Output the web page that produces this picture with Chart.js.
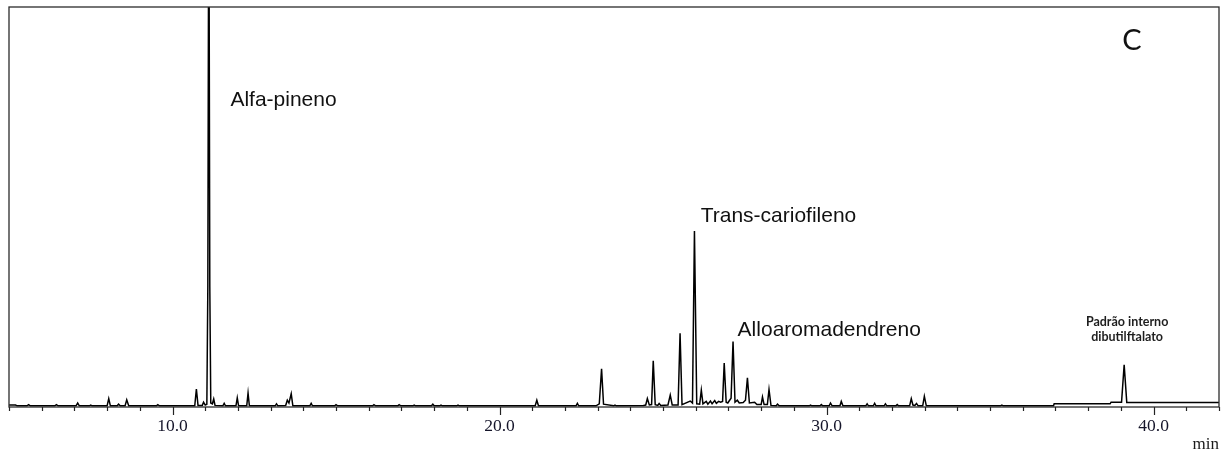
<!DOCTYPE html>
<html>
<head>
<meta charset="utf-8">
<title>Cromatograma C</title>
<script src="https://cdn.jsdelivr.net/npm/chart.js@4.4.1/dist/chart.umd.min.js"></script>
<style>
  html, body { margin: 0; padding: 0; background: #fff; }
  #wrap { position: relative; width: 1231px; height: 455px; }
</style>
</head>
<body>
<div id="wrap"><canvas id="chart-gc"></canvas></div>
<script>
// retention time (min) and detector signal (% of scale) of the trace, line by line
var retTime = [
  5.00, 5.20, 5.25, 5.55, 5.60, 5.65, 6.40, 6.45, 6.50, 7.05, 7.10, 7.15, 7.46, 7.50, 7.54,
  8.00, 8.05, 8.10, 8.31, 8.35, 8.40, 8.55, 8.60, 8.66, 9.51, 9.55, 9.60,
  10.68, 10.73, 10.78, 10.91, 10.95, 11.00, 11.05, 11.08, 11.11, 11.14, 11.17, 11.22, 11.26, 11.30,
  11.54, 11.58, 11.62, 11.94, 11.98, 12.02, 12.27, 12.31, 12.35, 13.14, 13.18, 13.22,
  13.46, 13.51, 13.56, 13.63, 13.68, 14.20, 14.24, 14.28, 14.96, 15.00, 15.05,
  16.12, 16.16, 16.21, 16.89, 16.93, 16.98, 17.35, 17.39, 17.43, 17.92, 17.96, 18.00,
  18.17, 18.21, 18.25, 18.69, 18.73, 18.77, 21.09, 21.14, 21.19, 22.34, 22.38, 22.42,
  22.95, 23.05, 23.12, 23.18, 23.49, 23.53, 23.57, 24.40, 24.47, 24.52, 24.58, 24.65, 24.70, 24.76,
  24.84, 24.88, 24.93, 25.15, 25.22, 25.28, 25.46, 25.52, 25.58, 25.83, 25.90, 25.96, 26.03,
  26.12, 26.17, 26.22, 26.32, 26.37, 26.45, 26.50, 26.58, 26.63, 26.70, 26.76, 26.82, 26.87, 26.93,
  26.98, 27.02, 27.08, 27.14, 27.20, 27.27, 27.33, 27.45, 27.52, 27.58, 27.64, 27.80, 27.87,
  28.00, 28.04, 28.09, 28.19, 28.24, 28.30, 28.46, 28.50, 28.55, 29.47, 29.51, 29.55,
  29.80, 29.84, 29.88, 30.08, 30.12, 30.17, 30.41, 30.45, 30.50, 31.20, 31.24, 31.28,
  31.43, 31.47, 31.51, 31.76, 31.80, 31.84, 32.12, 32.16, 32.20,
  32.54, 32.59, 32.64, 32.70, 32.75, 32.80, 32.94, 32.99, 33.05, 35.32, 35.36, 35.40,
  36.94, 36.96, 38.67, 38.70, 39.02, 39.10, 39.18, 42.10
];
var signal = [
  0.3, 0.3, 0.1, 0.1, 0.4, 0.1, 0.1, 0.4, 0.1, 0.1, 0.8, 0.1, 0.1, 0.3, 0.1,
  0.1, 1.9, 0.1, 0.1, 0.5, 0.1, 0.1, 1.6, 0.1, 0.1, 0.4, 0.1,
  0.1, 4.3, 0.2, 0.2, 1.0, 0.3, 0.5, 30, 140, 30, 0.8, 0.6, 1.8, 0.2,
  0.1, 0.7, 0.1, 0.1, 2.1, 0.1, 0.1, 3.3, 0.1, 0.1, 0.6, 0.1,
  0.2, 1.5, 0.8, 3.1, 0.1, 0.1, 0.7, 0.1, 0.1, 0.4, 0.1,
  0.1, 0.4, 0.1, 0.1, 0.4, 0.1, 0.1, 0.3, 0.1, 0.1, 0.5, 0.1,
  0.1, 0.3, 0.1, 0.1, 0.3, 0.1, 0.1, 1.5, 0.1, 0.1, 0.7, 0.1,
  0.1, 0.6, 9.4, 0.5, 0.1, 0.3, 0.1, 0.2, 0.3, 1.9, 0.3, 0.4, 11.4, 0.4,
  0.2, 0.7, 0.2, 0.3, 2.8, 0.3, 0.3, 18.3, 0.4, 1.3, 0.8, 43.9, 0.6,
  0.5, 4.0, 0.6, 1.2, 0.5, 1.3, 0.6, 1.4, 0.7, 1.2, 1.0, 1.2, 10.8, 1.0,
  0.8, 1.3, 2.0, 16.2, 1.0, 1.5, 0.8, 0.9, 1.5, 7.1, 0.8, 1.0, 0.4,
  0.4, 2.3, 0.4, 0.4, 4.2, 0.2, 0.1, 0.5, 0.1, 0.1, 0.3, 0.1,
  0.1, 0.4, 0.1, 0.1, 0.8, 0.1, 0.1, 1.2, 0.1, 0.1, 0.6, 0.1,
  0.1, 0.7, 0.1, 0.1, 0.6, 0.1, 0.1, 0.4, 0.1,
  0.1, 1.9, 0.3, 0.2, 0.7, 0.1, 0.1, 2.5, 0.1, 0.1, 0.3, 0.1,
  0.1, 0.6, 0.6, 1.0, 1.0, 10.4, 0.9, 0.9
];

var majorTicks = [10, 20, 30, 40];

// peak names, anchored at (time, level) by their left edge
var peakNames = ['Alfa-pineno', 'Trans-cariofileno', 'Alloaromadendreno'];
var peakNameTime = [11.77, 26.15, 27.28];
var peakNameLevel = [76.7, 47.6, 19.0];

// internal standard note, centred
var stdLines = ['Padrão interno', 'dibutilftalato'];
var stdTime = 39.19;
var stdLevel = [21.2, 17.4];

var panelTag = 'C';
var panelTagTime = 39.34;
var panelTagLevel = 91.6;

var tracePoints = retTime.map(function(t, i) { return { x: t, y: signal[i] }; });

// frame, tick marks and the text annotations
var gcDecor = {
  id: 'gcDecor',
  afterDraw: function(chart) {
    var ctx = chart.ctx;
    var a = chart.chartArea;
    var xs = chart.scales.x;
    var ys = chart.scales.y;

    ctx.save();
    ctx.strokeStyle = '#2b2b2b';
    ctx.lineWidth = 1.3;
    ctx.strokeRect(a.left, a.top, a.right - a.left, a.bottom - a.top);

    // minor ticks every minute, longer at the labelled ones
    ctx.lineWidth = 1.2;
    ctx.strokeStyle = '#222';
    xs.ticks.forEach(function(tk) {
      if (Math.abs(tk.value - Math.round(tk.value)) > 1e-6) return;
      var px = Math.round(xs.getPixelForValue(tk.value)) + 0.5;
      var len = majorTicks.indexOf(Math.round(tk.value)) >= 0 ? 8 : 4;
      ctx.beginPath();
      ctx.moveTo(px, a.bottom);
      ctx.lineTo(px, a.bottom + len);
      ctx.stroke();
    });

    ctx.fillStyle = '#111';
    ctx.textBaseline = 'middle';
    ctx.textAlign = 'left';
    ctx.font = '21px "Liberation Sans", Arial, sans-serif';
    peakNames.forEach(function(name, i) {
      ctx.fillText(name, xs.getPixelForValue(peakNameTime[i]), ys.getPixelForValue(peakNameLevel[i]));
    });

    ctx.textAlign = 'center';
    ctx.fillStyle = '#1e1e1e';
    ctx.font = 'bold 12.5px Lato, "Open Sans", sans-serif';
    stdLines.forEach(function(line, i) {
      ctx.fillText(line, xs.getPixelForValue(stdTime), ys.getPixelForValue(stdLevel[i]));
    });

    ctx.fillStyle = '#111';
    ctx.font = '29px Lato, "Open Sans", sans-serif';
    ctx.fillText(panelTag, xs.getPixelForValue(panelTagTime), ys.getPixelForValue(panelTagLevel));
    ctx.restore();
  }
};

var gcChart = new Chart(document.getElementById('chart-gc').getContext('2d'), {
  type: 'line',
  data: {
    datasets: [{
      data: tracePoints,
      borderColor: '#000',
      borderWidth: 1.5,
      pointRadius: 0,
      tension: 0,
      fill: false
    }]
  },
  options: {
    responsive: true,
    maintainAspectRatio: false,
    animation: false,
    devicePixelRatio: 1,
    layout: { padding: { left: 8, right: 12, top: 7, bottom: 0 } },
    plugins: { legend: { display: false }, tooltip: { enabled: false } },
    scales: {
      x: {
        type: 'linear',
        min: 5,
        max: 42,
        grid: { display: false, drawTicks: false },
        border: { display: false },
        ticks: {
          stepSize: 1,
          autoSkip: false,
          maxRotation: 0,
          padding: 9,
          color: '#15152a',
          font: { family: '"Liberation Serif", "Times New Roman", serif', size: 17.5 },
          callback: function(v) { return majorTicks.indexOf(v) >= 0 ? v.toFixed(1) : ''; }
        },
        title: {
          display: true,
          text: 'min',
          align: 'end',
          color: '#1a1a1a',
          padding: { top: 0, bottom: 0 },
          font: { family: '"Liberation Serif", "Times New Roman", serif', size: 17 }
        },
        afterFit: function(scale) { scale.height = 48; }
      },
      y: {
        display: false,
        min: -0.2,
        max: 100
      }
    }
  },
  plugins: [gcDecor]
});
</script>
</body>
</html>
